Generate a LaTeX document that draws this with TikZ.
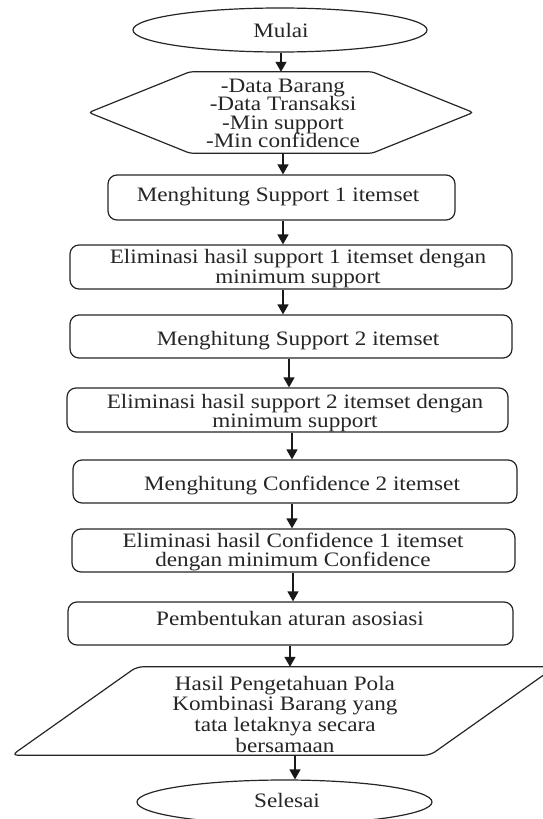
\documentclass[tikz,border=0pt]{standalone}
\usepackage{fontspec}
\setmainfont{Liberation Serif}[FakeStretch=1.13]
\usetikzlibrary{arrows.meta,shapes.geometric}
\newcommand{\lfont}[1]{\fontsize{20.5pt}{#1pt}\selectfont\lineskiplimit=-100pt\relax}
\begin{document}
\begin{tikzpicture}[x=1pt,y=-1pt,
  shp/.style={draw=black!85, line width=1.2pt, inner sep=0pt},
  procbox/.style={shp, rectangle, rounded corners=9pt},
  term/.style={shp, ellipse},
  frame/.style={inner sep=0pt, draw=none, rectangle},
  txt/.style={inner sep=0pt, text=black!85, align=center, font=\lfont{20}},
  arr/.style={line width=1.4pt, draw=black!90, -{Triangle[length=10pt,width=11pt]}},
]
\useasboundingbox (0,0) rectangle (543,819);
\fill[white] (0,0) rectangle (543,819);

% shapes
\node[term, minimum width=294pt, minimum height=44pt] (mulai) at (280,30) {};
\node[frame, minimum width=384pt, minimum height=81pt] (hex) at (281,112.5) {};
\draw[shp, rounded corners=3pt] (hex.west) -- ([xshift=101pt]hex.north west) -- ([xshift=-101pt]hex.north east)
  -- (hex.east) -- ([xshift=-101pt]hex.south east) -- ([xshift=101pt]hex.south west) -- cycle;
\node[procbox, minimum width=347pt, minimum height=45pt] (b1) at (281.5,197.5) {};
\node[procbox, minimum width=442pt, minimum height=44pt] (b2) at (291,267) {};
\node[procbox, minimum width=442pt, minimum height=43pt] (b3) at (291,336.5) {};
\node[procbox, minimum width=441pt, minimum height=44pt] (b4) at (287.5,410) {};
\node[procbox, minimum width=444pt, minimum height=43pt] (b5) at (295,481.5) {};
\node[procbox, minimum width=443pt, minimum height=43pt] (b6) at (293.5,550.5) {};
\node[procbox, minimum width=445pt, minimum height=43pt] (b7) at (290.5,623.5) {};
\node[frame, minimum width=543pt, minimum height=88pt] (par) at (283.5,711) {};
\draw[shp, rounded corners=6pt] ([xshift=125pt]par.north west) -- (par.north east)
  -- ([xshift=-125pt]par.south east) -- (par.south west) -- cycle;
\node[term, minimum width=295pt, minimum height=44pt] (selesai) at (284.5,802) {};

% texts
\node[txt, anchor=base] (tmulai) at (281,37) {Mulai};
\node[txt, font=\lfont{18.5}] (thex) at (283,113.2) {-Data Barang\\-Data Transaksi\\-Min support\\-Min confidence};
\node[txt, anchor=base] (t1) at (278,201) {Menghitung Support 1 itemset};
\node[txt, font=\lfont{20}] (t2) at (298,268.2) {Eliminasi hasil support 1 itemset dengan\\minimum support};
\node[txt, anchor=base] (t3) at (298,345) {Menghitung Support 2 itemset};
\node[txt, font=\lfont{19}] (t4) at (295,412.7) {Eliminasi hasil support 2 itemset dengan\\minimum support};
\node[txt, anchor=base] (t5) at (302,490) {Menghitung Confidence 2 itemset};
\node[txt, font=\lfont{19}] (t6) at (293,551.7) {Eliminasi hasil Confidence 1 itemset\\dengan minimum Confidence};
\node[txt, anchor=base] (t7) at (290,625) {Pembentukan aturan asosiasi};
\node[txt, font=\lfont{20.7}] (tpar) at (285,714.2) {Hasil Pengetahuan Pola\\Kombinasi Barang yang\\tata letaknya secara\\bersamaan};
\node[txt, anchor=base] (tsel) at (287,807) {Selesai};

% connectors
\draw[arr] (mulai.south -| 281,0) -- (hex.north -| 281,0);
\draw[arr] (hex.south -| 283,0) -- (b1.north -| 283,0);
\draw[arr] (b1.south -| 283,0) -- (b2.north -| 283,0);
\draw[arr] (b2.south -| 283,0) -- (b3.north -| 283,0);
\draw[arr] (b3.south -| 289,0) -- (b4.north -| 289,0);
\draw[arr] (b4.south -| 292,0) -- (b5.north -| 292,0);
\draw[arr] (b5.south -| 292,0) -- (b6.north -| 292,0);
\draw[arr] (b6.south -| 293,0) -- (b7.north -| 293,0);
\draw[arr] (b7.south -| 290,0) -- (par.north -| 290,0);
\draw[arr] (par.south -| 295,0) -- (selesai.north -| 295,0);
\end{tikzpicture}
\end{document}
